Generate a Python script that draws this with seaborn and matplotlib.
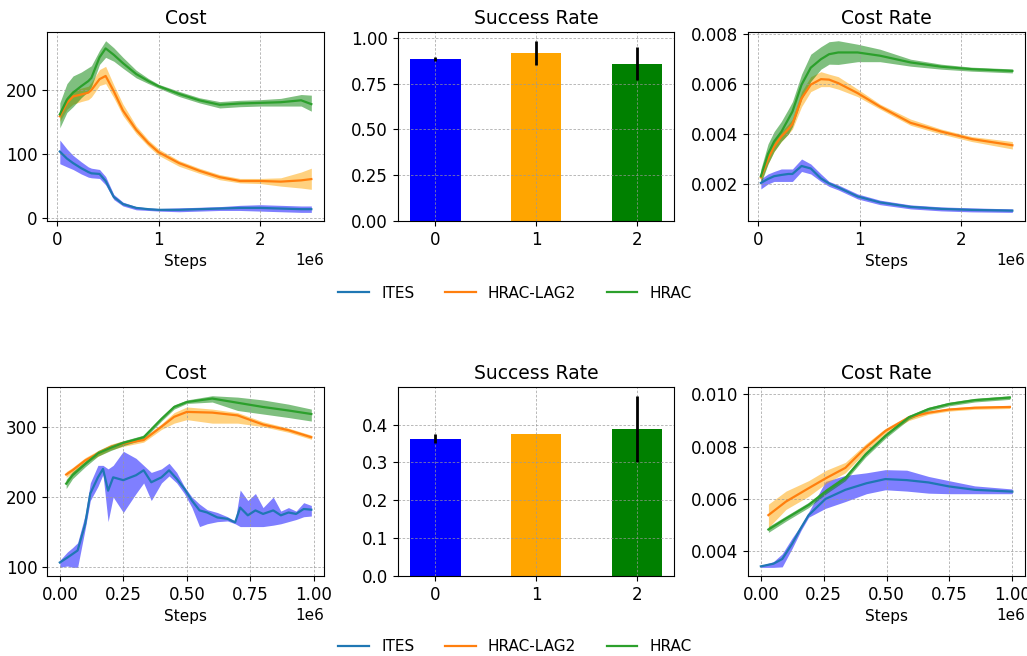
import matplotlib
matplotlib.use("Agg")
import matplotlib.pyplot as plt
import numpy as np
import seaborn as sns

methods = ["ITES", "HRAC-LAG2", "HRAC"]
line_colors = ["tab:blue", "tab:orange", "tab:green"]
band_colors = ["blue", "orange", "green"]

# ---------------- row 1 : cost (steps in millions) ----------------
cost1_steps = [0.03, 0.1, 0.16, 0.24, 0.31, 0.34, 0.42, 0.48, 0.56, 0.65, 0.78, 0.9, 1.0,
               1.2, 1.4, 1.6, 1.8, 2.0, 2.2, 2.4, 2.5]
cost1_ites = [104, 93, 86, 78, 72, 70, 69, 58, 33, 22, 16, 14, 13, 13, 14, 15, 16, 16, 15, 14, 14]
cost1_ites_lo = [85, 80, 76, 69, 64, 63, 62, 52, 29, 19, 13, 12, 11, 10, 11, 12, 12, 11, 10, 9, 9]
cost1_ites_hi = [122, 108, 98, 88, 80, 78, 76, 65, 37, 25, 18, 16, 15, 16, 17, 18, 20, 21, 20, 19, 19]
cost1_lag = [159, 180, 190, 193, 196, 200, 217, 222, 198, 168, 138, 117, 103, 86, 74, 64, 58, 58, 57, 59, 61]
cost1_lag_lo = [151, 170, 178, 182, 185, 189, 207, 210, 188, 160, 132, 112, 98, 81, 70, 60, 55, 54, 50, 47, 45]
cost1_lag_hi = [167, 190, 200, 203, 206, 212, 232, 237, 208, 178, 144, 122, 108, 90, 78, 68, 62, 62, 63, 72, 78]
cost1_hrac = [162, 185, 196, 206, 214, 219, 251, 265, 255, 242, 225, 214, 206, 194, 184, 177, 179, 180, 181, 184, 178]
cost1_hrac_lo = [141, 165, 174, 188, 198, 205, 240, 251, 245, 234, 219, 210, 203, 190, 180, 172, 174, 175, 175, 175, 167]
cost1_hrac_hi = [180, 210, 222, 228, 235, 238, 262, 277, 266, 251, 231, 218, 209, 198, 188, 182, 184, 185, 187, 193, 192]

# ---------------- row 1 : success rate ----------------
succ1 = [0.885, 0.918, 0.860]
succ1_err = [0.010, 0.065, 0.090]

# ---------------- row 1 : cost rate ----------------
rate1_steps = [0.03, 0.1, 0.16, 0.23, 0.3, 0.34, 0.43, 0.52, 0.62, 0.7, 0.79, 0.98, 1.2, 1.5, 1.8, 2.1, 2.5]
rate1_ites = [0.00204, 0.0022, 0.00231, 0.00236, 0.0024, 0.0024, 0.00272, 0.00262, 0.00222, 0.00202,
              0.00186, 0.0015, 0.00126, 0.00108, 0.0010, 0.00096, 0.00093]
rate1_ites_lo = [0.0018, 0.0020, 0.0021, 0.0021, 0.0021, 0.0021, 0.0025, 0.0024, 0.0021, 0.0019,
                 0.00176, 0.0014, 0.00117, 0.0010, 0.00092, 0.00088, 0.00086]
rate1_ites_hi = [0.0022, 0.0024, 0.0025, 0.0026, 0.0026, 0.0026, 0.0030, 0.0028, 0.0024, 0.0021,
                 0.00196, 0.0016, 0.00135, 0.00116, 0.00108, 0.00104, 0.0010]
rate1_lag = [0.00226, 0.0030, 0.0035, 0.0039, 0.0042, 0.0044, 0.00543, 0.00598, 0.0062, 0.00618,
             0.00604, 0.00564, 0.0051, 0.00445, 0.0041, 0.0038, 0.00355]
rate1_lag_lo = [0.0021, 0.0028, 0.0033, 0.0037, 0.0040, 0.0042, 0.0051, 0.0057, 0.0059, 0.0059,
                0.0058, 0.0055, 0.0050, 0.00435, 0.0040, 0.0037, 0.0034]
rate1_lag_hi = [0.0024, 0.0032, 0.0037, 0.0041, 0.0044, 0.0046, 0.0057, 0.0063, 0.0065, 0.0064,
                0.0063, 0.0058, 0.0052, 0.0046, 0.0042, 0.0039, 0.0037]
rate1_hrac = [0.00231, 0.0032, 0.0037, 0.00408, 0.0046, 0.0049, 0.00598, 0.00666, 0.0070, 0.0072,
              0.00727, 0.00727, 0.00714, 0.00687, 0.0067, 0.0066, 0.00653]
rate1_hrac_lo = [0.0020, 0.0028, 0.0033, 0.0037, 0.0040, 0.0043, 0.0054, 0.00611, 0.0066, 0.0068,
                 0.00679, 0.0069, 0.0069, 0.00672, 0.0066, 0.00652, 0.00645]
rate1_hrac_hi = [0.0026, 0.0036, 0.0041, 0.0045, 0.0050, 0.0053, 0.0064, 0.0072, 0.0075, 0.0077,
                 0.00774, 0.0076, 0.0074, 0.0070, 0.0068, 0.00668, 0.00661]

# ---------------- row 2 : cost ----------------
cost2_ites_steps = [0, 0.03, 0.05, 0.07, 0.1, 0.12, 0.15, 0.17, 0.19, 0.21, 0.25, 0.3, 0.33, 0.36,
                    0.4, 0.43, 0.46, 0.49, 0.52, 0.55, 0.58, 0.62, 0.66, 0.69, 0.71, 0.74, 0.77,
                    0.8, 0.84, 0.87, 0.9, 0.93, 0.96, 0.99]
cost2_ites = [107, 114, 119, 124, 162, 205, 228, 240, 209, 228, 224, 231, 238, 221, 228, 238, 226,
              212, 195, 181, 178, 171, 169, 164, 185, 174, 181, 176, 181, 174, 178, 176, 183, 182]
cost2_ites_lo = [100, 102, 100, 100, 155, 195, 215, 232, 165, 200, 178, 205, 220, 195, 220, 230, 220,
                 205, 185, 158, 162, 165, 166, 162, 158, 158, 158, 158, 160, 162, 165, 168, 172, 173]
cost2_ites_hi = [110, 122, 128, 135, 175, 220, 245, 245, 240, 245, 265, 255, 245, 235, 240, 248, 235,
                 215, 200, 190, 182, 178, 172, 166, 210, 195, 205, 185, 200, 180, 185, 180, 192, 188]
cost2_steps = [0.025, 0.05, 0.1, 0.15, 0.2, 0.25, 0.33, 0.4, 0.45, 0.5, 0.6, 0.7, 0.8, 0.9, 0.99]
cost2_lag = [232, 238, 252, 262, 271, 276, 281, 300, 314, 321, 320, 316, 303, 295, 285]
cost2_lag_lo = [228, 234, 248, 258, 267, 272, 278, 296, 305, 310, 305, 305, 300, 292, 282]
cost2_lag_hi = [236, 242, 256, 266, 275, 280, 284, 304, 320, 328, 325, 320, 307, 298, 288]
cost2_hrac = [219, 231, 247, 262, 270, 277, 285, 311, 328, 335, 340, 334, 328, 323, 318]
cost2_hrac_lo = [212, 226, 243, 258, 266, 273, 282, 308, 325, 333, 335, 323, 318, 313, 308]
cost2_hrac_hi = [225, 236, 251, 266, 274, 280, 288, 314, 331, 338, 344, 342, 338, 332, 325]

# ---------------- row 2 : success rate ----------------
succ2 = [0.363, 0.376, 0.388]
succ2_err = [0.011, 0.0, 0.087]

# ---------------- row 2 : cost rate ----------------
rate2_ites_steps = [0, 0.05, 0.085, 0.124, 0.16, 0.19, 0.257, 0.336, 0.42, 0.495, 0.58, 0.667, 0.747, 0.85, 1.0]
rate2_ites = [0.00342, 0.00352, 0.0037, 0.00428, 0.0049, 0.00538, 0.0060, 0.00635, 0.0066, 0.00676,
              0.00672, 0.00663, 0.00648, 0.00635, 0.00628]
rate2_ites_lo = [0.00338, 0.00338, 0.0034, 0.0041, 0.0048, 0.0053, 0.00564, 0.0059, 0.0062, 0.00635,
                 0.0063, 0.00622, 0.0062, 0.0062, 0.0062]
rate2_ites_hi = [0.00345, 0.0036, 0.0039, 0.0045, 0.0050, 0.0055, 0.00667, 0.0069, 0.0070, 0.00712,
                 0.0071, 0.00686, 0.0067, 0.0065, 0.00638]
rate2_steps = [0.03, 0.1, 0.19, 0.26, 0.336, 0.416, 0.495, 0.588, 0.667, 0.747, 0.85, 0.99]
rate2_lag = [0.00538, 0.0059, 0.00641, 0.0068, 0.00719, 0.00796, 0.0086, 0.00912, 0.0093, 0.00942, 0.00949, 0.00952]
rate2_lag_lo = [0.0049, 0.0056, 0.0061, 0.0066, 0.0070, 0.0078, 0.0085, 0.0090, 0.00924, 0.00936, 0.00943, 0.00946]
rate2_lag_hi = [0.0058, 0.0063, 0.0067, 0.0071, 0.0074, 0.0081, 0.0087, 0.0092, 0.00936, 0.00948, 0.00955, 0.00958]
rate2_hrac = [0.00483, 0.00525, 0.00577, 0.0063, 0.0068, 0.0077, 0.00841, 0.00912, 0.00944, 0.00963, 0.00978, 0.00988]
rate2_hrac_lo = [0.00472, 0.00515, 0.00567, 0.0062, 0.0067, 0.0076, 0.00832, 0.00904, 0.00937, 0.00956, 0.00971, 0.00981]
rate2_hrac_hi = [0.00494, 0.00535, 0.00587, 0.0064, 0.0069, 0.0078, 0.0085, 0.0092, 0.00951, 0.0097, 0.00985, 0.00995]

TITLE_SIZE = 13.5
TICK_SIZE = 12
LABEL_SIZE = 11


def style_axes(ax, title):
    ax.set_title(title, fontsize=TITLE_SIZE)
    ax.tick_params(labelsize=TICK_SIZE)
    ax.grid(True, linestyle=(0, (3, 2)), color="#999999", alpha=0.8, linewidth=0.6)


def curve_panel(ax, title, series):
    # series: list of (steps, mean, lo, hi) in method order
    for (steps, mean, lo, hi), lc, bc, name in zip(series, line_colors, band_colors, methods):
        x = np.array(steps) * 1e6
        ax.fill_between(x, lo, hi, color=bc, alpha=0.5, linewidth=0)
        sns.lineplot(x=x, y=mean, color=lc, linewidth=1.6, label=name,
                     errorbar=None, legend=False, ax=ax)
    ax.set_xlabel("Steps", fontsize=LABEL_SIZE)
    ax.xaxis.get_offset_text().set_fontsize(LABEL_SIZE)
    style_axes(ax, title)


def bar_panel(ax, title, values, errs):
    idx = list(range(len(values)))
    sns.barplot(x=idx, y=values, hue=idx, palette=band_colors, width=0.5,
                saturation=1, linewidth=0, errorbar=None, legend=False, ax=ax)
    ax.errorbar(idx, values, yerr=errs, fmt="none", ecolor="black", elinewidth=2, capsize=0)
    ax.set_xlim(-0.375, 2.375)
    ax.set_xlabel("")
    style_axes(ax, title)


fig, axes = plt.subplots(2, 3, figsize=(10.27, 6.56), dpi=100)
fig.subplots_adjust(left=0.046, right=0.998, top=0.951, bottom=0.122,
                    wspace=0.267, hspace=0.88)

curve_panel(axes[0, 0], "Cost", [
    (cost1_steps, cost1_ites, cost1_ites_lo, cost1_ites_hi),
    (cost1_steps, cost1_lag, cost1_lag_lo, cost1_lag_hi),
    (cost1_steps, cost1_hrac, cost1_hrac_lo, cost1_hrac_hi)])
bar_panel(axes[0, 1], "Success Rate", succ1, succ1_err)
curve_panel(axes[0, 2], "Cost Rate", [
    (rate1_steps, rate1_ites, rate1_ites_lo, rate1_ites_hi),
    (rate1_steps, rate1_lag, rate1_lag_lo, rate1_lag_hi),
    (rate1_steps, rate1_hrac, rate1_hrac_lo, rate1_hrac_hi)])

curve_panel(axes[1, 0], "Cost", [
    (cost2_ites_steps, cost2_ites, cost2_ites_lo, cost2_ites_hi),
    (cost2_steps, cost2_lag, cost2_lag_lo, cost2_lag_hi),
    (cost2_steps, cost2_hrac, cost2_hrac_lo, cost2_hrac_hi)])
bar_panel(axes[1, 1], "Success Rate", succ2, succ2_err)
curve_panel(axes[1, 2], "Cost Rate", [
    (rate2_ites_steps, rate2_ites, rate2_ites_lo, rate2_ites_hi),
    (rate2_steps, rate2_lag, rate2_lag_lo, rate2_lag_hi),
    (rate2_steps, rate2_hrac, rate2_hrac_lo, rate2_hrac_hi)])

for row, ypos in [(0, 0.553), (1, 0.014)]:
    handles = axes[row, 0].get_lines()[:3]
    fig.legend(handles, methods, loc="center", ncol=3, frameon=False,
               fontsize=LABEL_SIZE, bbox_to_anchor=(0.5015, ypos))

fig.savefig("out.png", dpi=100)
